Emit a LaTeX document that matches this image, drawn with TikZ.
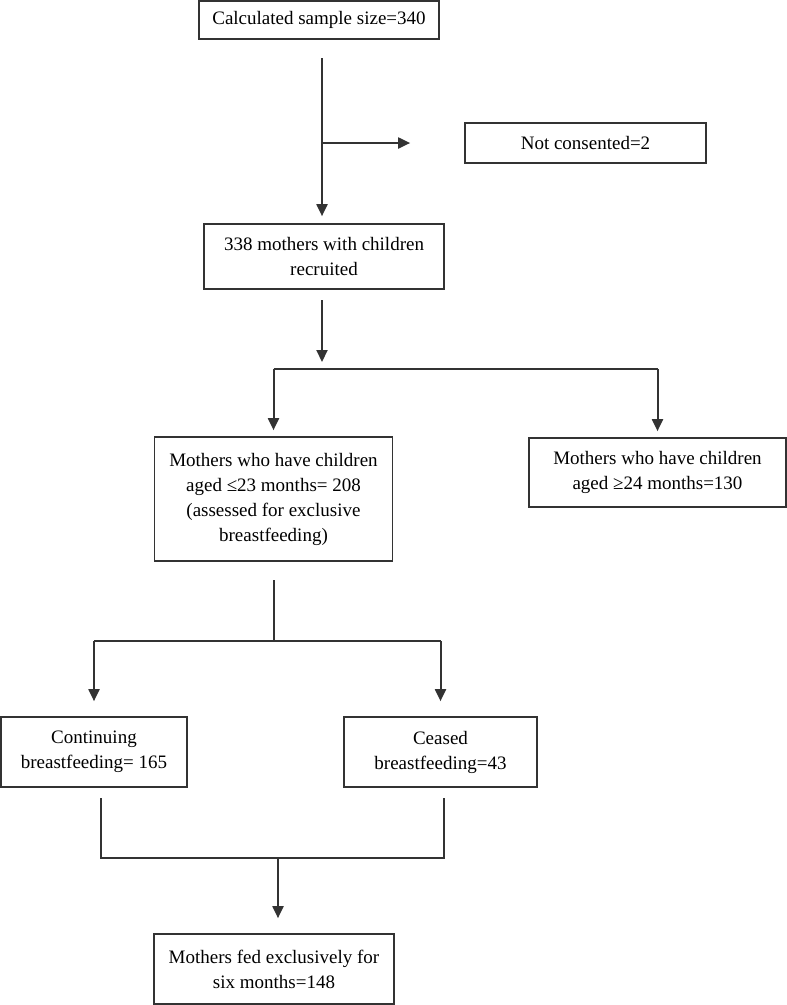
\documentclass[tikz,border=0pt]{standalone}
\usepackage{fontspec}
\setmainfont{Liberation Serif}
\usetikzlibrary{arrows.meta,positioning}
\begin{document}
\begin{tikzpicture}[x=1pt, y=-1pt,
  box/.style={draw=black!80, line width=1.7pt, align=center, inner sep=0pt, font=\fontsize{19}{25}\selectfont},
  ln/.style={line width=2pt, draw=black!80},
  arr/.style={ln, -{Triangle[length=12pt,width=11pt]}}]
\useasboundingbox (0,0) rectangle (787,1005);
\node[box, minimum width=240, minimum height=38]  (calc)  at (319,20)    {Calculated sample size=340};
\node[box, minimum width=241, minimum height=40]  (notc)  at (585.5,143) {Not consented=2};
\node[box, minimum width=240, minimum height=65]  (recr)  at (324,256.5) {338 mothers with children\\recruited};
\node[box, minimum width=238, minimum height=124] (young) at (273.5,499) {Mothers who have children\\aged ≤23 months= 208\\(assessed for exclusive\\breastfeeding)};
\node[box, minimum width=257, minimum height=69]  (old)   at (657.5,472.5) {Mothers who have children\\aged ≥24 months=130};
\node[box, minimum width=186, minimum height=70]  (cont)  at (94,752)    {Continuing\\breastfeeding= 165};
\node[box, minimum width=193, minimum height=70]  (ceas)  at (440.5,752) {Ceased\\breastfeeding=43};
\node[box, minimum width=240, minimum height=70]  (excl)  at (274,969)   {Mothers fed exclusively for\\six months=148};

% recruitment
\coordinate (c1) at (322,58);
\draw[arr, shorten >=7pt] (c1) -- (c1 |- recr.north);
\draw[arr, shorten >=54pt] (c1 |- notc.west) -- (notc.west);

% split by age
\coordinate (c2) at (322,300);
\coordinate (s1) at (322,369);
\draw[arr, shorten >=7pt] (c2) -- (s1);
\draw[ln] (s1 -| young.north) -- (s1 -| old.north);
\draw[arr, shorten >=6pt] (s1 -| young.north) -- (young.north);
\draw[arr, shorten >=6pt] (s1 -| old.north) -- (old.north);

% split by breastfeeding
\coordinate (c3) at (274,580);
\coordinate (s2) at (274,641);
\draw[ln] (c3) -- (s2);
\draw[ln] (s2 -| cont.north) -- (s2 -| ceas.north);
\draw[arr, shorten >=15pt] (s2 -| cont.north) -- (cont.north);
\draw[arr, shorten >=15pt] (s2 -| ceas.north) -- (ceas.north);

% merge
\coordinate (m1) at (101,798);
\coordinate (m2) at (444,798);
\coordinate (s3) at (278,858);
\draw[ln] (m1) -- (m1 |- s3) -- (m2 |- s3) -- (m2);
\draw[arr, shorten >=15pt] (s3) -- (s3 |- excl.north);
\end{tikzpicture}
\end{document}
